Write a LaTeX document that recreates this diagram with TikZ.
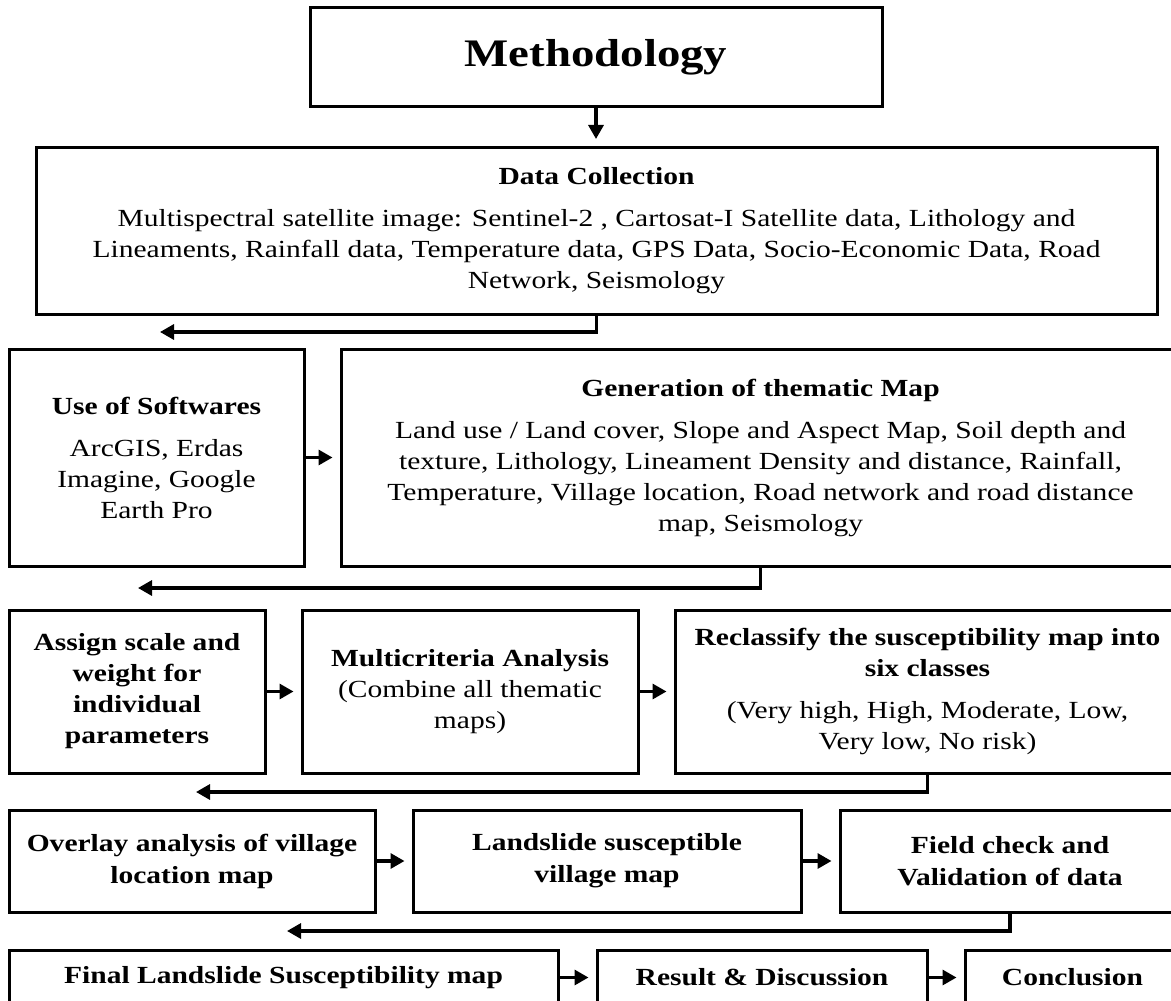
\documentclass[tikz,border=0pt]{standalone}
\usepackage{fontspec}
\setmainfont{Liberation Serif}[FakeStretch=1.2]
\usetikzlibrary{positioning}
\usetikzlibrary{arrows.meta}
\tikzset{>={Triangle[width=7.5pt,length=7pt]}}

\begin{document}
\begin{tikzpicture}[x=0.5pt, y=-0.5pt, box/.style={draw=black, line width=1.5pt, align=center, inner sep=0pt, font=\fontsize{12.3}{15.5}\selectfont}, line/.style={line width=1.6pt}, gap/.style={shorten >=3.5pt}]

    \useasboundingbox (0,0) rectangle (1171,1000);
    \clip (0,0) rectangle (1171,1000);

    %Nodes
    \node[box, minimum width=286pt, minimum height=49.5pt, font=\fontsize{19.5}{23}\selectfont\bfseries](meth) at (596,57.5){Methodology};
    \node[box, minimum width=560.5pt, minimum height=83.5pt](data) at (596.5,231){\textbf{Data Collection}\\[5.5pt] Multispectral satellite image: Sentinel-2 , Cartosat-I Satellite data, Lithology and\\ Lineaments, Rainfall data, Temperature data, GPS Data, Socio-Economic Data, Road\\ Network, Seismology};
    \node[box, minimum width=147.5pt, minimum height=108.5pt](soft) at (156.5,457.5){\textbf{Use of Softwares}\\[5.5pt] ArcGIS, Erdas\\ Imagine, Google\\ Earth Pro};
    \node[box, minimum width=419.5pt, minimum height=108.5pt](gen) at (760.5,457.5){\textbf{Generation of thematic Map}\\[5.5pt] Land use / Land cover, Slope and Aspect Map, Soil depth and\\ texture, Lithology, Lineament Density and distance, Rainfall,\\ Temperature, Village location, Road network and road distance\\ map, Seismology};
    \node[box, minimum width=128pt, minimum height=81.5pt, font=\fontsize{12.3}{15.5}\selectfont\bfseries](assign) at (137,691.5){Assign scale and\\ weight for\\ individual\\ parameters};
    \node[box, minimum width=168pt, minimum height=81.5pt](multi) at (470,691.5){\textbf{Multicriteria Analysis}\\ (Combine all thematic\\ maps)};
    \node[box, minimum width=252.5pt, minimum height=81.5pt](recl) at (927.5,691.5){\textbf{Reclassify the susceptibility map into}\\ \textbf{six classes}\\[5.5pt] (Very high, High, Moderate, Low,\\ Very low, No risk)};
    \node[box, minimum width=183pt, minimum height=51pt, font=\fontsize{12.3}{16}\selectfont\bfseries](overlay) at (192,861){Overlay analysis of village\\ location map};
    \node[box, minimum width=194pt, minimum height=51pt, font=\fontsize{12.3}{16}\selectfont\bfseries](village) at (607,861){Landslide susceptible\\ village map};
    \node[box, minimum width=170pt, minimum height=51pt, font=\fontsize{12.3}{16}\selectfont\bfseries](field) at (1010,861){Field check and\\ Validation of data};
    \node[box, minimum width=274.5pt, minimum height=27.5pt, font=\fontsize{12.3}{15.5}\selectfont\bfseries](final) at (283.5,977.5){Final Landslide Susceptibility map};
    \node[box, minimum width=165pt, minimum height=27.5pt, font=\fontsize{12.3}{15.5}\selectfont\bfseries](result) at (762,977.5){Result \& Discussion};
    \node[box, minimum width=107.5pt, minimum height=27.5pt, font=\fontsize{12.3}{15.5}\selectfont\bfseries](concl) at (1072.5,977.5){Conclusion};

    %Arrow ends
    \coordinate (c1) at (160,332);
    \coordinate (c2) at (138,588);
    \coordinate (c3) at (196,792);
    \coordinate (c4) at (287,931);

    %Lines
    \draw[line, ->, gap] (meth.south) -- (meth.south |- data.north);
    \draw[line, ->] (data.south) |- (c1);
    \draw[line, ->, gap] (soft.east) -- (gen.west);
    \draw[line, ->] (gen.south) |- (c2);
    \draw[line, ->, gap] (assign.east) -- (multi.west);
    \draw[line, ->, gap] (multi.east) -- (recl.west);
    \draw[line, ->] (recl.south) |- (c3);
    \draw[line, ->, gap] (overlay.east) -- (village.west);
    \draw[line, ->, gap] (village.east) -- (field.west);
    \draw[line, ->] (field.south) |- (c4);
    \draw[line, ->, gap] (final.east) -- (result.west);
    \draw[line, ->, gap] (result.east) -- (concl.west);

\end{tikzpicture}
\end{document}
